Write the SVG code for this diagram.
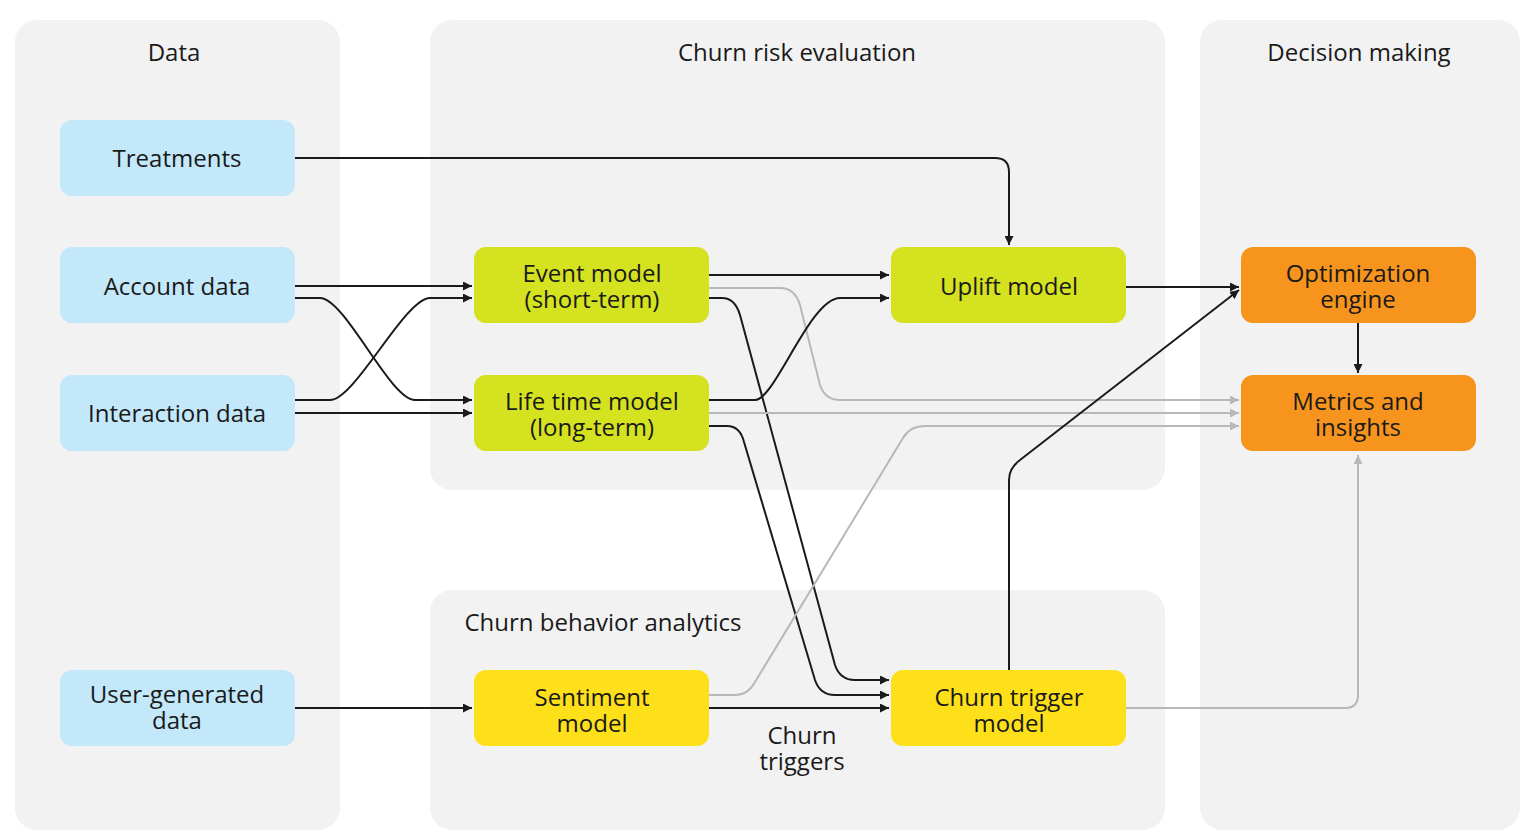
<svg xmlns="http://www.w3.org/2000/svg" width="1536" height="839" viewBox="0 0 1536 839">
<style>
.panel{fill:#f2f2f2}
.t{font-family:"Open Sans","Noto Sans",sans-serif;font-size:24px;fill:#1a1a1a;text-anchor:middle}
.blue{fill:#c3e8f9}.lime{fill:#d5e21f}.yel{fill:#fde019}.org{fill:#f7941d}
.k{fill:none;stroke:#1a1a1a;stroke-width:2}
.g{fill:none;stroke:#b8b8b8;stroke-width:2}
</style>
<defs>
<marker id="ak" viewBox="0 0 10 10" refX="10" refY="5" markerWidth="9" markerHeight="9" markerUnits="userSpaceOnUse" orient="auto"><path d="M0,0L10,5L0,10z" fill="#1a1a1a"/></marker>
<marker id="ag" viewBox="0 0 10 10" refX="10" refY="5" markerWidth="9" markerHeight="9" markerUnits="userSpaceOnUse" orient="auto"><path d="M0,0L10,5L0,10z" fill="#b8b8b8"/></marker>
</defs>
<rect width="1536" height="839" fill="#fff"/>
<g id="panels">
<rect class="panel" x="15" y="20" width="325" height="810" rx="22"/>
<rect class="panel" x="430" y="20" width="735" height="470" rx="22"/>
<rect class="panel" x="430" y="590" width="735" height="240" rx="22"/>
<rect class="panel" x="1200" y="20" width="320" height="810" rx="22"/>
<text class="t" x="174" y="61">Data</text>
<text class="t" x="797" y="61">Churn risk evaluation</text>
<text class="t" x="1359" y="61">Decision making</text>
<text class="t" x="603" y="631">Churn behavior analytics</text>
</g>
<g id="connectors">
<path class="k" d="M295,158H995Q1009,158 1009,172V245" marker-end="url(#ak)"/>
<path class="k" d="M295,286H472" marker-end="url(#ak)"/>
<path class="k" d="M295,298H320C345,298 390,400 415,400H472" marker-end="url(#ak)"/>
<path class="k" d="M295,400H330C355,400 405,298 430,298H472" marker-end="url(#ak)"/>
<path class="k" d="M295,413H472" marker-end="url(#ak)"/>
<path class="k" d="M295,708H472" marker-end="url(#ak)"/>
<path class="k" d="M709,275H889" marker-end="url(#ak)"/>
<path class="g" d="M709,288H780Q795,288 800,305L820,385Q825,400 840,400H1239" marker-end="url(#ag)"/>
<path class="k" d="M709,298H722Q735,298 740,315L835,665Q840,680 855,680H889" marker-end="url(#ak)"/>
<path class="k" d="M709,400H755C775,400 810,298 840,298H889" marker-end="url(#ak)"/>
<path class="g" d="M709,413H1239" marker-end="url(#ag)"/>
<path class="k" d="M709,426H727Q740,426 744,442L815,680Q820,695 835,695H889" marker-end="url(#ak)"/>
<path class="g" d="M709,695H735Q748,695 755,682L903,438Q910,426 925,426H1239" marker-end="url(#ag)"/>
<path class="k" d="M709,708H889" marker-end="url(#ak)"/>
<path class="k" d="M1126,287H1239" marker-end="url(#ak)"/>
<path class="k" d="M1009,670V480Q1009,468 1020,460L1239,290" marker-end="url(#ak)"/>
<path class="k" d="M1358,323V373" marker-end="url(#ak)"/>
<path class="g" d="M1126,708H1345Q1358,708 1358,695V455" marker-end="url(#ag)"/>
<text class="t" x="802" y="744">Churn</text>
<text class="t" x="802" y="770">triggers</text>
</g>
<g id="treatments"><rect class="blue" x="60" y="120" width="235" height="76" rx="12"/><text class="t" x="177" y="167">Treatments</text></g>
<g id="account"><rect class="blue" x="60" y="247" width="235" height="76" rx="12"/><text class="t" x="177" y="295">Account data</text></g>
<g id="interaction"><rect class="blue" x="60" y="375" width="235" height="76" rx="12"/><text class="t" x="177" y="422">Interaction data</text></g>
<g id="usergen"><rect class="blue" x="60" y="670" width="235" height="76" rx="12"/><text class="t" x="177" y="703">User-generated</text><text class="t" x="177" y="729">data</text></g>
<g id="event"><rect class="lime" x="474" y="247" width="235" height="76" rx="12"/><text class="t" x="592" y="282">Event model</text><text class="t" x="592" y="308">(short-term)</text></g>
<g id="lifetime"><rect class="lime" x="474" y="375" width="235" height="76" rx="12"/><text class="t" x="592" y="410">Life time model</text><text class="t" x="592" y="436">(long-term)</text></g>
<g id="uplift"><rect class="lime" x="891" y="247" width="235" height="76" rx="12"/><text class="t" x="1009" y="295">Uplift model</text></g>
<g id="sentiment"><rect class="yel" x="474" y="670" width="235" height="76" rx="12"/><text class="t" x="592" y="706">Sentiment</text><text class="t" x="592" y="732">model</text></g>
<g id="churntrigger"><rect class="yel" x="891" y="670" width="235" height="76" rx="12"/><text class="t" x="1009" y="706">Churn trigger</text><text class="t" x="1009" y="732">model</text></g>
<g id="optimization"><rect class="org" x="1241" y="247" width="235" height="76" rx="12"/><text class="t" x="1358" y="282">Optimization</text><text class="t" x="1358" y="308">engine</text></g>
<g id="metrics"><rect class="org" x="1241" y="375" width="235" height="76" rx="12"/><text class="t" x="1358" y="410">Metrics and</text><text class="t" x="1358" y="436">insights</text></g>
</svg>
